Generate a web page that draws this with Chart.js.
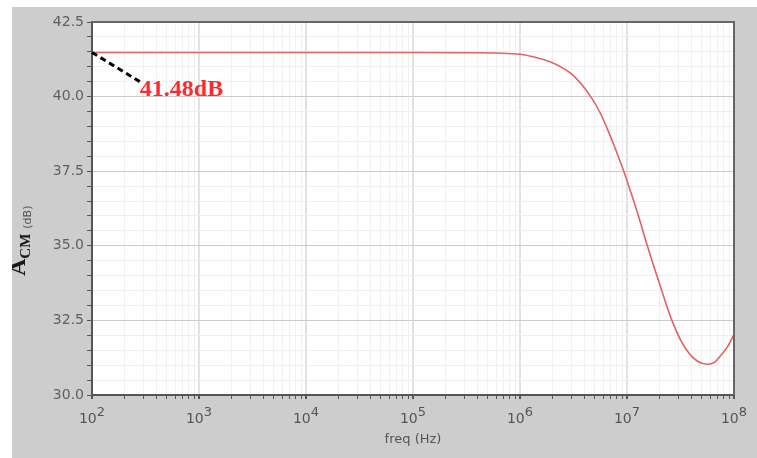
<!DOCTYPE html>
<html lang="en">
<head>
  <meta charset="UTF-8">
  <title>A_CM vs freq</title>
  <script src="https://cdn.jsdelivr.net/npm/chart.js"></script>
  <style>
    html, body {
      margin: 0;
      padding: 0;
      background: #ffffff;
    }
    #chartContainer {
      width: 757px;
      height: 458px;
    }
  </style>
</head>
<body>

  <div id="chartContainer">
    <canvas id="acmChart"></canvas>
  </div>

  <script>
    // Common-mode gain sweep (frequency in Hz, gain in dB)
    const freqHz = [100, 1e3, 1e4, 1e5, 4e5, 6e5, 1e6, 1.38e6, 1.905e6, 2.4e6, 2.93e6, 3.72e6, 4.68e6,
                    5.62e6, 6.76e6, 7.94e6, 9.33e6, 1.096e7, 1.318e7, 1.549e7, 1.862e7, 2.239e7,
                    2.63e7, 3.162e7, 3.8e7, 4.57e7, 5.62e7, 6.61e7, 7.41e7, 8.71e7, 1e8];
    const gainDb = [41.48, 41.48, 41.48, 41.48, 41.47, 41.46, 41.42, 41.32, 41.17, 41.0, 40.8, 40.43, 39.95,
                    39.45, 38.8, 38.17, 37.5, 36.75, 35.85, 35.0, 34.1, 33.22,
                    32.5, 31.85, 31.4, 31.13, 31.03, 31.1, 31.3, 31.62, 32.03];

    // axis ranges and labelled ticks
    const yTickLabels = [30.0, 32.5, 35.0, 37.5, 40.0, 42.5];
    const xDecades = [2, 3, 4, 5, 6, 7, 8];

    // callout: marked point and where the label sits
    const markerAt = [freqHz[0], gainDb[0]];
    const calloutAt = [280, 40.5];

    const isDecade = v => Math.abs(Math.log10(v) - Math.round(Math.log10(v))) < 1e-9;
    const isMajorY = v => yTickLabels.some(t => Math.abs(t - v) < 1e-6);

    const framePlugin = {
      id: "frame",
      beforeDraw(chart) {
        const c = chart.ctx;
        const a = chart.chartArea;
        c.save();
        c.fillStyle = "#ffffff";
        c.fillRect(0, 0, chart.width, chart.height);
        c.fillStyle = "#cdcdcd";
        c.fillRect(12, 7, chart.width - 12, chart.height - 7);
        c.fillStyle = "#ffffff";
        c.fillRect(a.left, a.top, a.right - a.left, a.bottom - a.top);
        c.restore();
      },
      afterDraw(chart) {
        const c = chart.ctx;
        const a = chart.chartArea;
        const xs = chart.scales.x;
        const ys = chart.scales.y;

        // top and right edges of the plot frame
        c.save();
        c.strokeStyle = "#666666";
        c.lineWidth = 2;
        c.beginPath();
        c.moveTo(a.left, a.top);
        c.lineTo(a.right, a.top);
        c.lineTo(a.right, a.bottom);
        c.stroke();
        c.restore();

        // decade labels 10^n
        c.save();
        c.fillStyle = "#555555";
        c.textBaseline = "alphabetic";
        xDecades.forEach(d => {
          const px = xs.getPixelForValue(Math.pow(10, d));
          c.font = "14px 'DejaVu Sans'";
          const wBase = c.measureText("10").width;
          c.font = "13px 'DejaVu Sans'";
          const wExp = c.measureText(String(d)).width;
          const x0 = px - (wBase + wExp) / 2;
          c.font = "14px 'DejaVu Sans'";
          c.fillText("10", x0, 423);
          c.font = "13px 'DejaVu Sans'";
          c.fillText(String(d), x0 + wBase, 416);
        });

        // x axis title
        c.font = "13px 'DejaVu Sans'";
        c.textAlign = "center";
        c.fillText("freq (Hz)", (a.left + a.right) / 2, 443);
        c.restore();

        // y axis title: A_CM (dB), rotated
        c.save();
        c.beginPath();
        c.rect(12, 7, chart.width - 12, chart.height - 7);
        c.clip();
        c.translate(25, 276);
        c.rotate(-Math.PI / 2);
        c.textBaseline = "alphabetic";
        c.fillStyle = "#1a1a1a";
        c.font = "bold 24px 'Liberation Serif'";
        c.fillText("A", 0, 0);
        let tx = c.measureText("A").width;
        c.font = "bold 15px 'Liberation Serif'";
        c.fillText("CM", tx, 5);
        tx += c.measureText("CM").width + 5;
        c.fillStyle = "#555555";
        c.font = "11px 'DejaVu Sans'";
        c.fillText("(dB)", tx, 6);
        c.restore();

        // dashed callout to the flat-band gain
        const mx = xs.getPixelForValue(markerAt[0]);
        const my = ys.getPixelForValue(markerAt[1]);
        const lx = xs.getPixelForValue(calloutAt[0]);
        const ly = ys.getPixelForValue(calloutAt[1]);
        c.save();
        c.strokeStyle = "#000000";
        c.lineWidth = 3;
        c.setLineDash([6, 4]);
        c.beginPath();
        c.moveTo(mx, my);
        c.lineTo(lx, ly);
        c.stroke();
        c.setLineDash([]);
        c.fillStyle = "#ff2a2a";
        c.font = "bold 24px 'Liberation Serif'";
        c.textBaseline = "alphabetic";
        c.fillText(markerAt[1].toFixed(2) + "dB", lx, ly + 14);
        c.restore();
      }
    };

    const ctx = document.getElementById("acmChart").getContext("2d");
    const acmChart = new Chart(ctx, {
      type: "scatter",
      data: {
        datasets: [{
          label: "A_CM",
          data: freqHz.map((f, i) => ({ x: f, y: gainDb[i] })),
          showLine: true,
          borderColor: "#e06262",
          borderWidth: 1.6,
          pointRadius: 0,
          cubicInterpolationMode: "monotone"
        }]
      },
      options: {
        responsive: true,
        maintainAspectRatio: false,
        animation: false,
        layout: { padding: { top: 22, right: 23, left: 0, bottom: 0 } },
        plugins: {
          legend: { display: false },
          tooltip: { enabled: false }
        },
        scales: {
          x: {
            type: "logarithmic",
            min: 100,
            max: 1e8,
            afterBuildTicks(scale) {
              const ticks = [];
              for (let d = 2; d < 8; d++) {
                for (let m = 1; m <= 9; m++) ticks.push({ value: m * Math.pow(10, d) });
              }
              ticks.push({ value: 1e8 });
              scale.ticks = ticks;
            },
            afterFit(scale) { scale.height = 63; },
            ticks: { display: false },
            grid: {
              color: c => isDecade(c.tick.value) ? "#e2e2e2" : "#f1f1f1",
              lineWidth: c => isDecade(c.tick.value) ? 2 : 1,
              tickColor: "#555555",
              tickLength: 4
            },
            border: { color: "#555555", width: 2 }
          },
          y: {
            min: 30,
            max: 42.5,
            afterFit(scale) { scale.width = 92; },
            ticks: {
              stepSize: 0.5,
              autoSkip: false,
              padding: 3,
              color: "#606060",
              font: { family: "'DejaVu Sans'", size: 14 },
              callback: v => isMajorY(v) ? v.toFixed(1) : ""
            },
            grid: {
              color: c => isMajorY(c.tick.value) ? "#cccccc" : "#efefef",
              tickColor: "#555555",
              tickLength: 5
            },
            border: { color: "#555555", width: 2 }
          }
        }
      },
      plugins: [framePlugin]
    });
  </script>
</body>
</html>
